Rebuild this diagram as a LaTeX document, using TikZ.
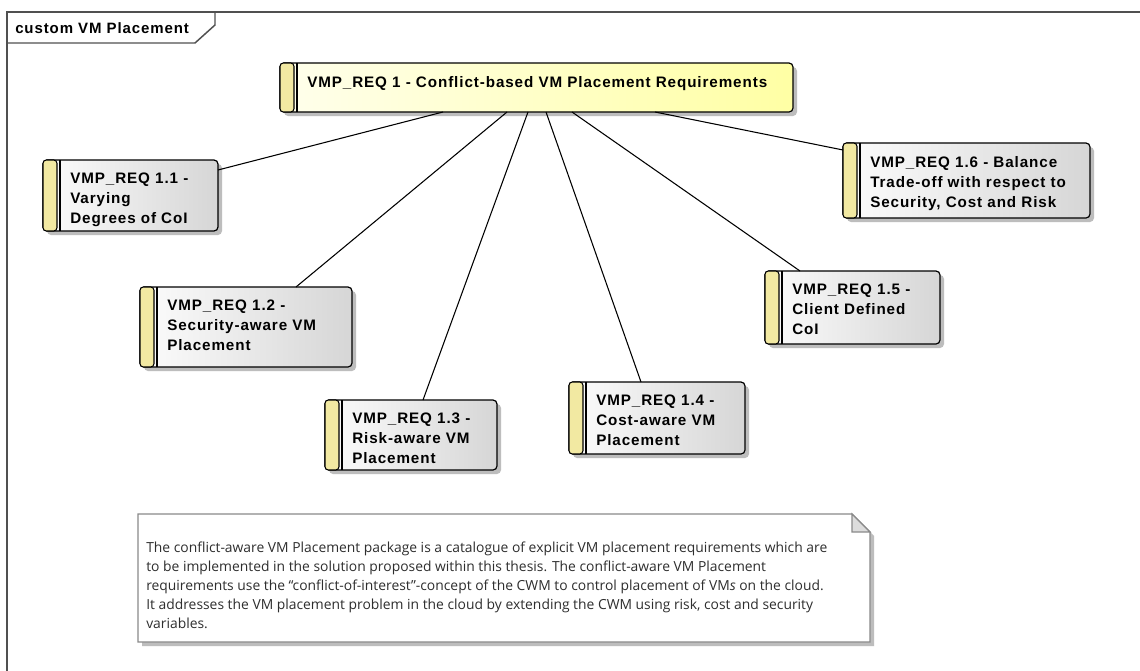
\documentclass[tikz,border=0pt]{standalone}
\usepackage{fontspec}
\setmainfont{Liberation Sans}
\newfontfamily\boxfont[LetterSpace=6]{Liberation Sans}
\newfontfamily\notefont{Open Sans}
\usetikzlibrary{calc}

\definecolor{framec}{HTML}{505050}
\definecolor{boxL}{HTML}{FCFCFC}
\definecolor{boxR}{HTML}{D6D6D6}
\definecolor{mainL}{HTML}{FFFFEC}
\definecolor{mainR}{HTML}{FFFFA4}
\definecolor{bandc}{HTML}{F2E9A2}
\definecolor{shadowc}{HTML}{BDBDBD}
\definecolor{notebd}{HTML}{8A8A8A}
\definecolor{foldc}{HTML}{DCDCDC}
\definecolor{notetx}{HTML}{2E2E2E}

\tikzset{
  conn/.style={draw=black, line width=0.8pt},
  boxframe/.style={rectangle, draw=black, line width=0.9pt, rounded corners=3pt, inner sep=0pt, outer sep=0pt},
  graybox/.style={left color=boxL, right color=boxR},
  yellowbox/.style={left color=mainL, right color=mainR},
  band/.style={draw=black, line width=0.8pt, fill=bandc, rounded corners=2.5pt},
  boxtext/.style={inner sep=0pt, align=left, font=\boxfont\bfseries\fontsize{11.4pt}{15pt}\selectfont},
  notetext/.style={inner sep=0pt, align=left, text=notetx, font=\notefont\fontsize{10.4pt}{14.25pt}\selectfont},
  framebd/.style={draw=framec, line width=1.1pt},
}

% requirement element: name, left, top, right, bottom, fill style, label
\newcommand\reqbox[7]{%
  \fill[shadowc, rounded corners=3pt] (#2+4,#3+4) rectangle (#4+4,#5+4);
  \node[boxframe, #6, anchor=north west,
        minimum width={(#4-#2)*0.75pt}, minimum height={(#5-#3)*0.75pt}] (#1) at (#2,#3) {};
  \draw[band] (#1.north west) rectangle ($(#1.south west)+(14,0)$);
  \draw[line width=0.8pt] ($(#1.north west)+(17,0)$) -- ($(#1.south west)+(17,0)$);
  \node[boxtext, anchor=north west] (#1t) at ($(#1.north west)+(27,13)$) {#7};
}

\begin{document}
\begin{tikzpicture}[x=0.75pt, y=-0.75pt]
\useasboundingbox (0,0) rectangle (1140,671);
\fill[white] (0,0) rectangle (1140,671);

% diagram frame with its name tab
\draw[framebd] (7,671) -- (7,12) -- (1140,12);
\draw[framebd] (7,43) -- (195,43) -- (215,25) -- (215,12);
\node[anchor=base west, inner sep=0pt, font=\boxfont\bfseries\fontsize{11.25pt}{14pt}\selectfont] (frametitle) at (15,33) {custom VM Placement};

% requirements
\reqbox{main}{280}{63}{793}{112}{yellowbox}{VMP\_REQ 1 - Conflict-based VM Placement Requirements}
\reqbox{r11}{43}{160}{218}{231}{graybox}{VMP\_REQ 1.1 -\\Varying\\Degrees of CoI}
\reqbox{r12}{140}{287}{352}{367}{graybox}{VMP\_REQ 1.2 -\\Security-aware VM\\Placement}
\reqbox{r13}{325}{400}{497}{470}{graybox}{VMP\_REQ 1.3 -\\Risk-aware VM\\Placement}
\reqbox{r14}{569}{382}{745}{454}{graybox}{VMP\_REQ 1.4 -\\Cost-aware VM\\Placement}
\reqbox{r15}{765}{271}{940}{344}{graybox}{VMP\_REQ 1.5 -\\Client Defined\\CoI}
\reqbox{r16}{843}{143}{1090}{218}{graybox}{VMP\_REQ 1.6 - Balance\\Trade-off with respect to\\Security, Cost and Risk}

% connectors from the package requirement to its children
\draw[conn] ($(main.south west)+(163,0)$) -- ($(r11.north east)+(0,10)$);
\draw[conn] ($(main.south west)+(227,0)$) -- ($(r12.north west)+(156,0)$);
\draw[conn] ($(main.south west)+(248,0)$) -- ($(r13.north west)+(98,0)$);
\draw[conn] ($(main.south west)+(266,0)$) -- ($(r14.north west)+(72,0)$);
\draw[conn] ($(main.south west)+(292,0)$) -- ($(r15.north west)+(35,0)$);
\draw[conn] ($(main.south west)+(375,0)$) -- ($(r16.north west)+(0,7)$);

% note with folded corner
\fill[shadowc] (142,518) -- (856,518) -- (874,536) -- (874,646) -- (142,646) -- cycle;
\draw[draw=notebd, line width=0.8pt, fill=white] (138,514) -- (852,514) -- (870,532) -- (870,642) -- (138,642) -- cycle;
\draw[draw=notebd, line width=0.8pt, fill=foldc] (852,514) -- (852,532) -- (870,532) -- cycle;
\node[notetext, anchor=north west] (note) at (146,542) {The conflict-aware VM Placement package is a catalogue of explicit VM placement requirements which are\\
to be implemented in the solution proposed within this thesis. The conflict-aware VM Placement\\
requirements use the “conflict-of-interest”-concept of the CWM to control placement of VM\textit{s} on the cloud.\\
It addresses the VM placement problem in the cloud by extending the CWM using risk, cost and security\\
variables.};
\end{tikzpicture}
\end{document}
